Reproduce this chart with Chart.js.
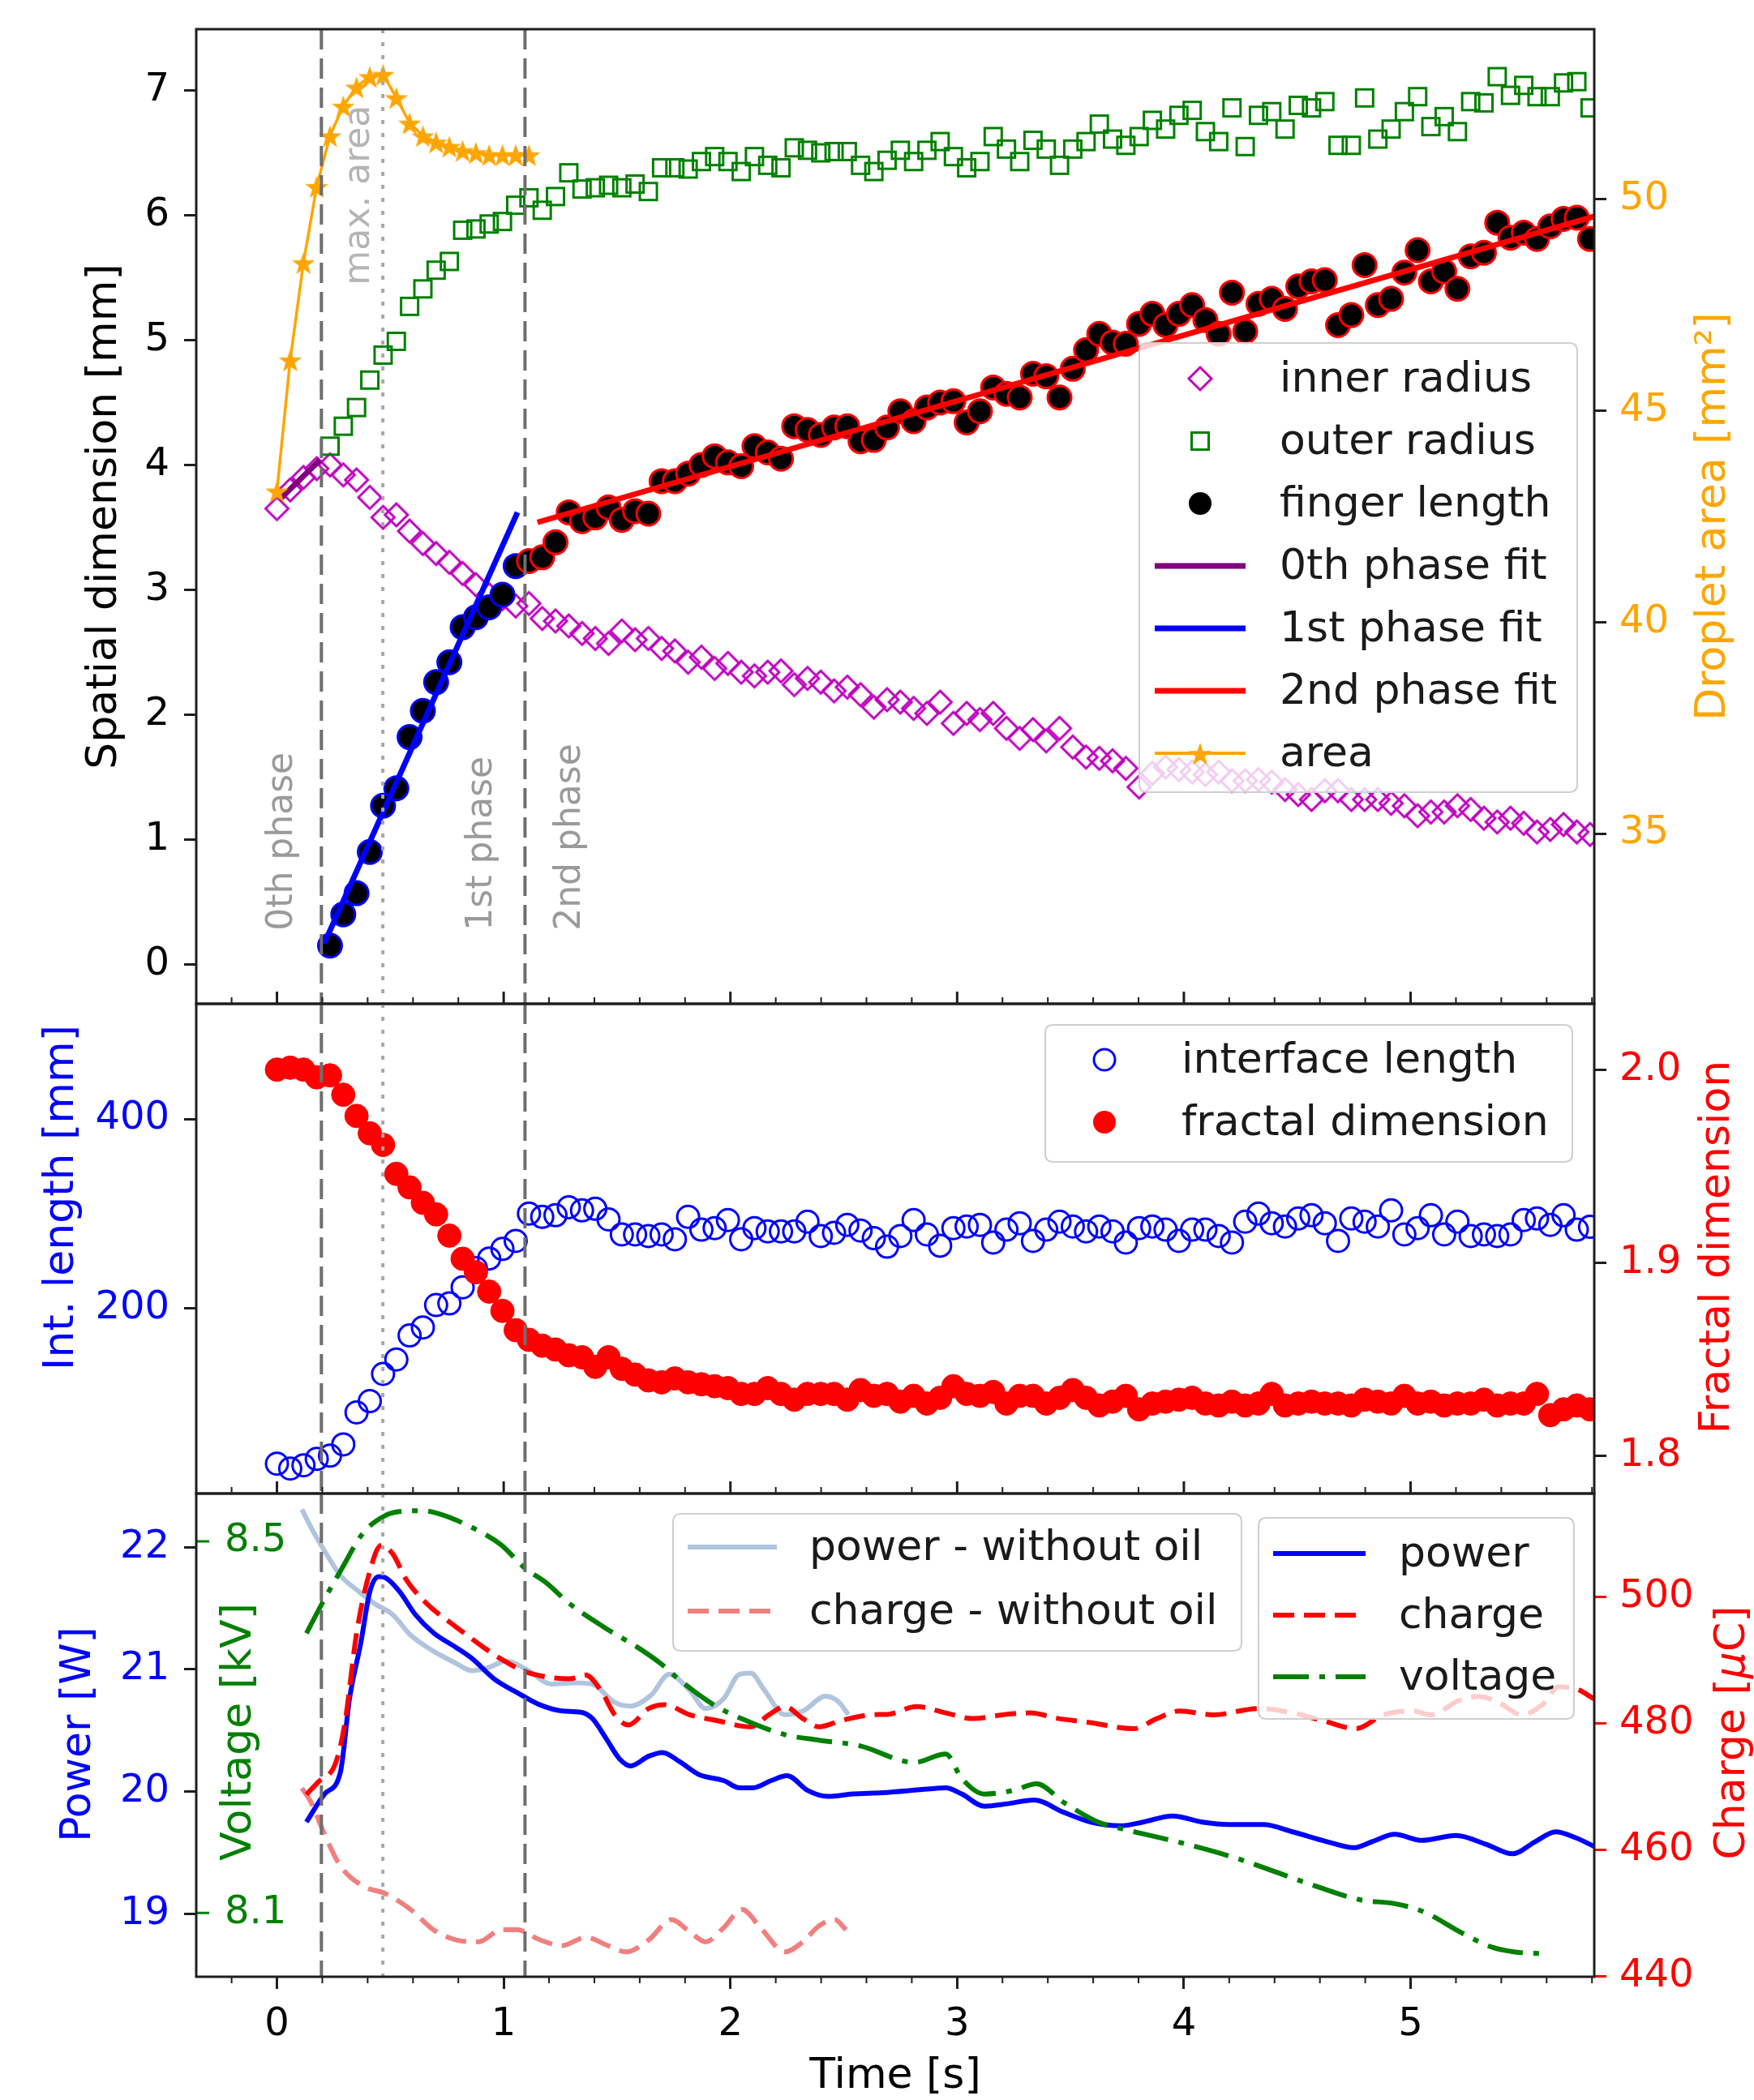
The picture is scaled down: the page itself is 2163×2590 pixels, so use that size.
<!DOCTYPE html>
<html>
<head>
<meta charset="utf-8">
<title>Finger growth, interface and electrical time series</title>
<script src="https://cdn.jsdelivr.net/npm/chart.js@4.4.1/dist/chart.umd.min.js"></script>
<style>
  html, body { margin: 0; padding: 0; background: #ffffff; }
  #figure { position: relative; width: 2163px; height: 2590px; }
  #figure canvas { position: absolute; left: 0; top: 0; }
</style>
</head>
<body>
<div id="figure">
  <canvas id="topPanel" width="2163" height="2590"></canvas>
  <canvas id="midPanel" width="2163" height="2590"></canvas>
  <canvas id="botPanel" width="2163" height="2590"></canvas>
</div>
<script>
"use strict";

// ---------------- values ----------------
const frameDt = 0.0585;                 // s between video frames
const timeTicks = [0, 1, 2, 3, 4, 5];
const phaseBounds = [0.196, 1.094];     // dashed lines [s]
const maxAreaTimes = [0.467];           // dotted line [s]

// top panel
const spatialTicks = [0, 1, 2, 3, 4, 5, 6, 7];
const areaTicks = [35, 40, 45, 50];
const innerRadius = [
  3.65, 3.80, 3.90, 3.97, 4.00, 3.92, 3.88, 3.74, 3.58, 3.60,
  3.47, 3.37, 3.29, 3.22, 3.13, 3.04, 2.96, 2.93, 2.87, 2.89,
  2.77, 2.75, 2.71, 2.65, 2.61, 2.57, 2.67, 2.60, 2.61, 2.53,
  2.51, 2.42, 2.46, 2.37, 2.41, 2.34, 2.31, 2.34, 2.35, 2.24,
  2.29, 2.26, 2.19, 2.22, 2.16, 2.06, 2.12, 2.10, 2.05, 2.01,
  2.10, 1.93, 2.01, 1.96, 2.01, 1.89, 1.81, 1.88, 1.79, 1.89,
  1.74, 1.66, 1.65, 1.63, 1.57, 1.42, 1.53, 1.58, 1.56, 1.54,
  1.52, 1.54, 1.47, 1.47, 1.48, 1.46, 1.40, 1.36, 1.32, 1.39,
  1.39, 1.32, 1.32, 1.32, 1.29, 1.27, 1.19, 1.22, 1.22, 1.27,
  1.24, 1.17, 1.14, 1.17, 1.13, 1.06, 1.08, 1.12, 1.06, 1.04
];
const outerRadiusStart = 4;
const outerRadius = [
  4.15, 4.31, 4.46, 4.68, 4.88, 4.99, 5.27, 5.41, 5.56, 5.63,
  5.88, 5.89, 5.93, 5.95, 6.08, 6.14, 6.04, 6.15, 6.34, 6.21,
  6.22, 6.24, 6.22, 6.25, 6.19, 6.38, 6.38, 6.37, 6.43, 6.47,
  6.43, 6.35, 6.47, 6.40, 6.38, 6.54, 6.52,
  6.50, 6.51, 6.51, 6.40, 6.35, 6.44, 6.52, 6.43, 6.52, 6.59,
  6.47, 6.38, 6.43, 6.63, 6.53, 6.43, 6.60, 6.53, 6.40, 6.53,
  6.59, 6.73, 6.61, 6.56, 6.63, 6.76, 6.69, 6.80, 6.84,
  6.67, 6.59, 6.86, 6.55, 6.80, 6.83, 6.69, 6.88, 6.86, 6.91,
  6.56, 6.56, 6.94, 6.61, 6.69, 6.83, 6.95, 6.71, 6.79, 6.67,
  6.91, 6.90, 7.11, 6.96, 7.04, 6.95, 6.95, 7.06, 7.07, 6.86
];
const fingerPhase1Start = 4;
const fingerPhase1 = [0.15, 0.40, 0.57, 0.90, 1.27, 1.41, 1.82, 2.03, 2.26, 2.42,
                      2.70, 2.78, 2.86, 2.96, 3.19];
const fingerPhase2Start = 19;
const fingerPhase2 = [
  3.23, 3.26, 3.38, 3.62, 3.55, 3.58, 3.66, 3.56, 3.63, 3.61,
  3.87, 3.87, 3.93, 4.00, 4.07, 4.02, 3.99, 4.15, 4.10, 4.05,
  4.31, 4.28,
  4.24, 4.30, 4.31, 4.19, 4.20, 4.30, 4.43, 4.35, 4.46, 4.50,
  4.51, 4.34, 4.43, 4.62, 4.57, 4.54, 4.73, 4.71, 4.54, 4.77,
  4.92, 5.05, 4.98, 4.97, 5.13, 5.21, 5.12, 5.21, 5.28, 5.16, 5.05,
  5.38, 5.07, 5.29, 5.33, 5.25, 5.43, 5.47, 5.48, 5.12, 5.20,
  5.60, 5.28, 5.33, 5.54, 5.72, 5.47, 5.55, 5.41, 5.67, 5.70,
  5.94, 5.82, 5.86, 5.81, 5.91, 5.97, 5.98, 5.81
];
const dropletArea = [43.1, 46.2, 48.5, 50.3, 51.5, 52.2, 52.65, 52.9, 52.95, 52.4,
                     51.8, 51.5, 51.35, 51.25, 51.15, 51.1, 51.05, 51.05, 51.05, 51.05];
const fit0Time = [0.01, 0.19],   fit0Value = [3.72, 4.04];
const fit1Time = [0.208, 1.061], fit1Value = [0.165, 3.62];
const fit2Time = [1.149, 5.81],  fit2Value = [3.54, 5.99];
const phaseLabels = ["0th phase", "1st phase", "2nd phase", "max. area"];
const phaseLabelTime = [0.026, 0.906, 1.295, 0.364];
const phaseLabelBase = [0.27, 0.27, 0.27, 5.44];

// middle panel
const lengthTicks = [200, 400];
const fractalTicks = [1.8, 1.9, 2.0];
const interfaceLength = [
  35.6, 30.5, 33.9, 40.7, 44.1, 56.0, 89.8, 101.7, 130.5, 145.7,
  171.1, 179.6, 203.3, 205.0, 222.0, 242.3, 252.5, 262.6, 271.1, 299.9,
  296.5, 298.2, 306.7, 303.3, 305.0, 293.8, 277.9, 277.9, 276.2, 277.9,
  272.8, 296.5, 283.0, 284.6, 293.1, 272.8, 284.6, 281.2, 281.2, 281.2,
  291.4, 276.2, 279.6, 288.0, 282.0, 274.0, 265.0, 276.2, 293.1, 277.9,
  266.0, 284.6, 286.3, 288.0, 269.4, 283.0, 289.7, 271.1, 283.0, 291.4,
  286.3, 281.2, 286.3, 281.2, 269.4, 284.6, 286.3, 283.0, 271.1, 283.0,
  283.0, 276.2, 269.4, 291.4, 299.9, 289.7, 286.3, 294.8, 298.2, 289.7,
  271.1, 294.8, 291.4, 286.3, 303.3, 277.9, 284.6, 298.2, 277.9, 291.4,
  276.2, 277.9, 276.2, 277.9, 293.1, 294.8, 288.0, 298.2, 283.0, 286.0
];
const fractalDimension = [
  2.000, 2.001, 2.000, 1.996, 1.997, 1.987, 1.976, 1.967, 1.961, 1.946,
  1.939, 1.931, 1.925, 1.914, 1.902, 1.895, 1.885, 1.875, 1.865, 1.860,
  1.857, 1.855, 1.852, 1.851, 1.846, 1.851, 1.845, 1.842, 1.839, 1.838,
  1.840, 1.838, 1.837, 1.836, 1.835, 1.832, 1.832, 1.835, 1.832, 1.829,
  1.832, 1.832, 1.832, 1.829, 1.834, 1.831, 1.832, 1.828, 1.831, 1.827,
  1.830, 1.836, 1.832, 1.831, 1.833, 1.827, 1.831, 1.831, 1.827, 1.830,
  1.834, 1.830, 1.826, 1.828, 1.831, 1.824, 1.827, 1.828, 1.829, 1.830,
  1.827, 1.826, 1.828, 1.826, 1.827, 1.832, 1.826, 1.827, 1.828, 1.827,
  1.827, 1.826, 1.829, 1.828, 1.827, 1.831, 1.827, 1.828, 1.826, 1.827,
  1.827, 1.829, 1.826, 1.827, 1.827, 1.832, 1.821, 1.824, 1.826, 1.824
];

// bottom panel
const powerTicks = [19, 20, 21, 22];
const chargeTicks = [440, 460, 480, 500];
const voltageTicks = [8.1, 8.5];
const powerTime = [0.13, 0.21, 0.28, 0.32, 0.37, 0.41, 0.45, 0.48, 0.54, 0.61,
  0.69, 0.79, 0.86, 0.96, 1.06, 1.16, 1.26, 1.34, 1.39, 1.45,
  1.51, 1.56, 1.64, 1.70, 1.78, 1.86, 1.97, 2.04, 2.10, 2.18,
  2.25, 2.34, 2.43, 2.54, 2.67, 2.87, 2.95, 3.02, 3.12, 3.22,
  3.34, 3.47, 3.59, 3.72, 3.82, 3.95, 4.08, 4.20, 4.35, 4.48,
  4.63, 4.75, 4.83, 4.93, 5.05, 5.20, 5.33, 5.45, 5.55, 5.64, 5.73, 5.81];
const powerW = [19.75, 19.98, 20.16, 20.76, 21.22, 21.64, 21.76, 21.75, 21.64, 21.45,
  21.30, 21.18, 21.09, 20.92, 20.81, 20.71, 20.66, 20.65, 20.60, 20.44,
  20.27, 20.21, 20.29, 20.32, 20.24, 20.14, 20.09, 20.03, 20.03, 20.09,
  20.13, 20.01, 19.96, 19.98, 19.99, 20.02, 20.03, 19.98, 19.88, 19.90,
  19.93, 19.83, 19.75, 19.72, 19.75, 19.80, 19.75, 19.73, 19.73, 19.67,
  19.59, 19.54, 19.59, 19.65, 19.60, 19.64, 19.57, 19.49, 19.59, 19.67, 19.62, 19.55];
const chargeTime = [0.13, 0.18, 0.26, 0.30, 0.35, 0.40, 0.46, 0.51, 0.57, 0.66,
  0.79, 0.91, 0.99, 1.09, 1.19, 1.29, 1.36, 1.43, 1.49, 1.55,
  1.64, 1.71, 1.82, 1.94, 2.09, 2.17, 2.24, 2.32, 2.39, 2.49,
  2.62, 2.70, 2.82, 2.95, 3.07, 3.20, 3.32, 3.45, 3.58, 3.78,
  3.88, 3.98, 4.13, 4.33, 4.48, 4.61, 4.76, 4.88, 5.01, 5.09,
  5.21, 5.30, 5.39, 5.49, 5.59, 5.65, 5.73, 5.81];
const chargeUC = [468.8, 470.7, 473.9, 480.2, 494.0, 502.8, 508.2, 506.9, 502.8, 499.0,
  495.3, 492.1, 490.2, 488.3, 487.4, 487.1, 487.7, 485.2, 481.4, 479.8,
  482.4, 483.0, 481.4, 480.5, 479.5, 481.4, 482.7, 480.8, 479.5, 480.5,
  481.4, 481.5, 482.7, 481.7, 480.8, 481.4, 481.7, 480.8, 480.2, 479.2,
  480.8, 482.0, 481.4, 482.4, 481.7, 480.5, 479.2, 481.4, 482.0, 481.4,
  483.6, 484.3, 483.3, 481.4, 483.3, 485.8, 485.5, 483.9];
const voltageTime = [0.13, 0.21, 0.28, 0.38, 0.48, 0.54, 0.64, 0.71, 0.86, 0.99,
  1.09, 1.19, 1.29, 1.44, 1.59, 1.69, 1.79, 1.94, 2.09, 2.24,
  2.39, 2.57, 2.81, 2.95, 3.02, 3.12, 3.25, 3.35, 3.47, 3.62,
  3.72, 3.98, 4.23, 4.58, 4.78, 4.93, 5.06, 5.23, 5.36, 5.46, 5.61];
const voltageKV = [8.401, 8.438, 8.468, 8.509, 8.528, 8.532, 8.533, 8.530, 8.515, 8.496,
  8.472, 8.455, 8.433, 8.408, 8.386, 8.369, 8.348, 8.322, 8.305, 8.292,
  8.286, 8.280, 8.262, 8.271, 8.245, 8.228, 8.232, 8.239, 8.219, 8.198,
  8.191, 8.176, 8.159, 8.129, 8.114, 8.110, 8.101, 8.078, 8.063, 8.058, 8.056];
const powerNoOilTime = [0.11, 0.16, 0.21, 0.28, 0.36, 0.43, 0.51, 0.59, 0.69, 0.79,
  0.86, 0.94, 1.01, 1.11, 1.21, 1.31, 1.39, 1.49, 1.56, 1.65,
  1.73, 1.82, 1.89, 1.97, 2.04, 2.09, 2.15, 2.24, 2.32, 2.42, 2.48, 2.52];
const powerNoOil = [22.31, 22.13, 21.97, 21.77, 21.64, 21.54, 21.45, 21.28, 21.15, 21.05,
  20.99, 21.02, 21.07, 20.99, 20.88, 20.89, 20.88, 20.73, 20.70, 20.79,
  20.96, 20.83, 20.68, 20.76, 20.96, 20.97, 20.83, 20.63, 20.66, 20.78, 20.73, 20.63];
const chargeNoOilTime = [0.11, 0.15, 0.21, 0.28, 0.38, 0.48, 0.59, 0.69, 0.79, 0.89,
  0.99, 1.06, 1.16, 1.26, 1.36, 1.46, 1.54, 1.64, 1.74, 1.82,
  1.89, 1.97, 2.05, 2.14, 2.24, 2.32, 2.39, 2.46, 2.51];
const chargeNoOil = [469.8, 467.6, 462.5, 457.5, 454.3, 453.1, 450.6, 447.4, 445.8, 445.5,
  447.4, 447.4, 445.8, 444.9, 446.2, 444.9, 443.9, 445.8, 449.0, 447.1,
  445.5, 447.7, 450.6, 447.4, 443.9, 445.5, 448.0, 449.0, 447.4];

// ---------------- look ----------------
const W = 2163, H = 2590;
const PLOT_LEFT = 242, PLOT_RIGHT = 1966;
const PANEL_TOP = [36, 1238, 1842];
const PANEL_BOTTOM = [1238, 1842, 2438];
const X_MIN = -0.356, X_MAX = 5.81;
const FONT = "'DejaVu Sans', 'Noto Sans', sans-serif";

const MAGENTA = "#bf00bf", GREEN = "#008000", PURPLE = "#800080";
const BLUE = "#0000ff", RED = "#ff0000", ORANGE = "#ffa500";
const STEEL = "#b0c4de", CORAL = "#f08080";

const DASH = [26, 12];
const DASH_DOT = [44, 13, 7, 13];

Chart.defaults.font.family = FONT;
Chart.defaults.color = "#000";

function fromFrames(values, firstFrame) {
  return values.map((v, i) => ({x: (firstFrame + i) * frameDt, y: v}));
}

function fromPairs(times, values) {
  return times.map((t, i) => ({x: t, y: values[i]}));
}

function markerCanvas(size, draw) {
  const c = document.createElement("canvas");
  c.width = size;
  c.height = size;
  draw(c.getContext("2d"), size / 2);
  return c;
}

const diamondMark = markerCanvas(34, function (g, c) {
  g.strokeStyle = MAGENTA;
  g.lineWidth = 3;
  g.beginPath();
  g.moveTo(c, c - 14); g.lineTo(c + 14, c); g.lineTo(c, c + 14); g.lineTo(c - 14, c);
  g.closePath();
  g.stroke();
});

const squareMark = markerCanvas(28, function (g, c) {
  g.strokeStyle = GREEN;
  g.lineWidth = 3;
  g.strokeRect(c - 10.5, c - 10.5, 21, 21);
});

const starMark = markerCanvas(34, function (g, c) {
  g.fillStyle = ORANGE;
  g.beginPath();
  for (let i = 0; i < 10; i++) {
    const r = i % 2 ? 6 : 15;
    const a = -Math.PI / 2 + i * Math.PI / 5;
    g.lineTo(c + r * Math.cos(a), c + 2 + r * Math.sin(a));
  }
  g.closePath();
  g.fill();
});

// ---------------- scales ----------------
function xScale(visible) {
  const s = {
    type: "linear", min: X_MIN, max: X_MAX, display: visible,
    afterBuildTicks: function (sc) { sc.ticks = timeTicks.map(v => ({value: v})); },
    grid: {drawOnChartArea: false, drawTicks: true, tickLength: 15, tickWidth: 3, tickColor: "#1e1e1e"},
    border: {display: false},
    ticks: {color: "#000", font: {size: 48}, padding: 16, maxRotation: 0, autoSkip: false,
            callback: v => String(v)}
  };
  if (visible) {
    s.afterFit = function (sc) {
      sc.height = H - PANEL_BOTTOM[2];
      sc.paddingLeft = 0;
      sc.paddingRight = 0;
    };
  }
  return s;
}

function yScale(side, min, max, tickValues, labelColor, markColor, decimals) {
  return {
    type: "linear", position: side, min: min, max: max,
    afterBuildTicks: function (sc) { sc.ticks = tickValues.map(v => ({value: v})); },
    afterFit: function (sc) {
      sc.width = side === "left" ? PLOT_LEFT : W - PLOT_RIGHT;
      sc.paddingTop = 0;
      sc.paddingBottom = 0;
    },
    grid: {drawOnChartArea: false, drawTicks: true, tickLength: 15, tickWidth: 3, tickColor: markColor},
    border: {display: false},
    ticks: {color: labelColor, font: {size: 48}, padding: side === "left" ? 18 : 16,
            callback: v => v.toFixed(decimals)}
  };
}

// ---------------- drawing helpers ----------------
function vline(ctx, x, a) {
  ctx.beginPath();
  ctx.moveTo(x, a.top);
  ctx.lineTo(x, a.bottom);
  ctx.stroke();
}

// parts: [[text, italic?], ...] drawn as one label centred on (x, y)
function drawLabel(ctx, parts, x, y, color, size, rotated) {
  ctx.save();
  ctx.translate(x, y);
  if (rotated) ctx.rotate(-Math.PI / 2);
  ctx.fillStyle = color;
  ctx.textBaseline = "middle";
  ctx.textAlign = "left";
  let total = 0;
  const widths = parts.map(p => {
    ctx.font = (p[1] ? "italic " : "") + size + "px " + FONT;
    const w = ctx.measureText(p[0]).width;
    total += w;
    return w;
  });
  let cx = -total / 2;
  parts.forEach((p, i) => {
    ctx.font = (p[1] ? "italic " : "") + size + "px " + FONT;
    ctx.fillText(p[0], cx, 0);
    cx += widths[i];
  });
  ctx.restore();
}

function roundRectPath(ctx, x, y, w, h, r) {
  ctx.beginPath();
  ctx.moveTo(x + r, y);
  ctx.lineTo(x + w - r, y);
  ctx.quadraticCurveTo(x + w, y, x + w, y + r);
  ctx.lineTo(x + w, y + h - r);
  ctx.quadraticCurveTo(x + w, y + h, x + w - r, y + h);
  ctx.lineTo(x + r, y + h);
  ctx.quadraticCurveTo(x, y + h, x, y + h - r);
  ctx.lineTo(x, y + r);
  ctx.quadraticCurveTo(x, y, x + r, y);
  ctx.closePath();
}

function drawLegend(ctx, lg) {
  ctx.save();
  roundRectPath(ctx, lg.x, lg.y, lg.w, lg.h, 10);
  ctx.fillStyle = "rgba(255,255,255,0.8)";
  ctx.fill();
  ctx.strokeStyle = "#cfcfcf";
  ctx.lineWidth = 2;
  ctx.stroke();
  lg.rows.forEach(function (row, i) {
    const cy = lg.y0 + i * lg.dy;
    if (row.line) {
      ctx.strokeStyle = row.line;
      ctx.lineWidth = row.lw;
      ctx.setLineDash(row.dash || []);
      ctx.beginPath();
      ctx.moveTo(lg.hx - lg.hw, cy);
      ctx.lineTo(lg.hx + lg.hw, cy);
      ctx.stroke();
      ctx.setLineDash([]);
    }
    if (row.img) ctx.drawImage(row.img, lg.hx - row.img.width / 2, cy - row.img.height / 2);
    if (row.dot) {
      ctx.beginPath();
      ctx.arc(lg.hx, cy, row.dot.r, 0, 2 * Math.PI);
      if (row.dot.fill) { ctx.fillStyle = row.dot.fill; ctx.fill(); }
      if (row.dot.edge) { ctx.strokeStyle = row.dot.edge; ctx.lineWidth = 3; ctx.stroke(); }
    }
    ctx.fillStyle = "#1a1a1a";
    ctx.font = "52px " + FONT;
    ctx.textAlign = "left";
    ctx.textBaseline = "middle";
    ctx.fillText(row.label, lg.tx, cy + 2);
  });
  ctx.restore();
}

// per panel extras (kept outside chart options so Chart.js does not resolve them)
const panelSetup = {
  topPanel: {
    ticksOut: false,
    titles: [
      {parts: [["Spatial dimension [mm]"]], x: 129, y: 637, color: "#000"},
      {parts: [["Droplet area [mm²]"]], x: 2113, y: 637, color: ORANGE}
    ],
    legends: [{
      x: 1405, y: 423, w: 540, h: 554, y0: 467, dy: 77, hx: 1480, hw: 56, tx: 1578,
      rows: [
        {label: "inner radius", img: diamondMark},
        {label: "outer radius", img: squareMark},
        {label: "finger length", dot: {r: 14, fill: "#000"}},
        {label: "0th phase fit", line: PURPLE, lw: 7},
        {label: "1st phase fit", line: BLUE, lw: 7},
        {label: "2nd phase fit", line: RED, lw: 7},
        {label: "area", line: ORANGE, lw: 4, img: starMark}
      ]
    }]
  },
  midPanel: {
    ticksOut: false,
    titles: [
      {parts: [["Int. length [mm]"]], x: 76, y: 1477, color: BLUE},
      {parts: [["Fractal dimension"]], x: 2118, y: 1538, color: RED}
    ],
    legends: [{
      x: 1289, y: 1264, w: 650, h: 169, y0: 1307, dy: 77, hx: 1362, hw: 0, tx: 1457,
      rows: [
        {label: "interface length", dot: {r: 13, edge: BLUE}},
        {label: "fractal dimension", dot: {r: 14, fill: RED}}
      ]
    }]
  },
  botPanel: {
    ticksOut: true,
    titles: [
      {parts: [["Power [W]"]], x: 97, y: 2139, color: BLUE},
      {parts: [["Voltage [kV]"]], x: 295, y: 2136, color: GREEN},
      {parts: [["Charge ["], ["μ", true], ["C]"]], x: 2137, y: 2137, color: RED},
      {parts: [["Time [s]"]], x: 1104, y: 2561, color: "#000", flat: true}
    ],
    legends: [{
      x: 830, y: 1867, w: 701, h: 169, y0: 1908, dy: 79, hx: 903, hw: 55, tx: 998,
      rows: [
        {label: "power - without oil", line: STEEL, lw: 6},
        {label: "charge - without oil", line: CORAL, lw: 6, dash: DASH}
      ]
    }, {
      x: 1552, y: 1872, w: 389, h: 248, y0: 1916, dy: 76, hx: 1627, hw: 57, tx: 1725,
      rows: [
        {label: "power", line: BLUE, lw: 6},
        {label: "charge", line: RED, lw: 6, dash: DASH},
        {label: "voltage", line: GREEN, lw: 6, dash: DASH_DOT}
      ]
    }]
  }
};

const panelDeco = {
  id: "panelDeco",
  afterDatasetsDraw(chart) {
    const o = panelSetup[chart.canvas.id];
    const ctx = chart.ctx, a = chart.chartArea, xs = chart.scales.x;
    ctx.save();

    // phase boundaries and time of maximum area
    ctx.lineWidth = 4;
    ctx.strokeStyle = "#6e6e6e";
    ctx.setLineDash([25, 11]);
    phaseBounds.forEach(t => vline(ctx, xs.getPixelForValue(t), a));
    ctx.strokeStyle = "#a8a8a8";
    ctx.setLineDash([5, 11]);
    maxAreaTimes.forEach(t => vline(ctx, xs.getPixelForValue(t), a));
    ctx.setLineDash([]);

    // phase annotations (top panel)
    if (chart.canvas.id === "topPanel") {
      const ys = chart.scales.y;
      phaseLabels.forEach(function (txt, i) {
        ctx.save();
        ctx.translate(xs.getPixelForValue(phaseLabelTime[i]), ys.getPixelForValue(phaseLabelBase[i]));
        ctx.rotate(-Math.PI / 2);
        ctx.fillStyle = i === 3 ? "#b4b4b4" : "#9a9a9a";
        ctx.font = "44px " + FONT;
        ctx.textAlign = "left";
        ctx.textBaseline = "middle";
        ctx.fillText(txt, 0, 0);
        ctx.restore();
      });
    }

    // voltage axis sits inside the bottom plot
    if (chart.scales.yV) {
      const yv = chart.scales.yV;
      ctx.strokeStyle = GREEN;
      ctx.fillStyle = GREEN;
      ctx.lineWidth = 3;
      ctx.font = "48px " + FONT;
      ctx.textAlign = "left";
      ctx.textBaseline = "middle";
      voltageTicks.forEach(function (v) {
        const y = yv.getPixelForValue(v);
        ctx.beginPath();
        ctx.moveTo(a.left, y);
        ctx.lineTo(a.left + 16, y);
        ctx.stroke();
        ctx.fillText(v.toFixed(1), a.left + 35, y);
      });
    }

    // minor (and, inside panels, major) time ticks
    ctx.strokeStyle = "#1e1e1e";
    for (let i = -1; i <= 29; i++) {
      const t = i / 5;
      if (t < X_MIN || t > X_MAX) continue;
      const major = i % 5 === 0;
      if (major && o.ticksOut) continue;
      const x = xs.getPixelForValue(t);
      const len = major ? 15 : 8;
      ctx.lineWidth = major ? 3 : 2;
      ctx.beginPath();
      ctx.moveTo(x, a.bottom);
      ctx.lineTo(x, o.ticksOut ? a.bottom + len : a.bottom - len);
      ctx.stroke();
    }

    // frame
    ctx.lineWidth = 3;
    ctx.strokeRect(a.left, a.top, a.right - a.left, a.bottom - a.top);

    o.titles.forEach(t => drawLabel(ctx, t.parts, t.x, t.y, t.color, 52, !t.flat));
    o.legends.forEach(lg => drawLegend(ctx, lg));
    ctx.restore();
  }
};

function baseOptions(panel, scales) {
  return {
    responsive: false,
    animation: false,
    devicePixelRatio: 1,
    events: [],
    layout: {padding: {left: 0, right: 0, top: PANEL_TOP[panel],
                       bottom: panel === 2 ? 0 : H - PANEL_BOTTOM[panel]}},
    plugins: {legend: {display: false}, tooltip: {enabled: false}, colors: {enabled: false}},
    scales: scales
  };
}

function lineSet(points, axis, color, width, order, extra) {
  return Object.assign({data: points, yAxisID: axis, showLine: true, borderColor: color,
                        borderWidth: width, pointRadius: 0, clip: 0, order: order}, extra || {});
}

// ---------------- top: spatial dimensions and droplet area ----------------
new Chart(document.getElementById("topPanel"), {
  type: "scatter",
  data: {datasets: [
    {data: fromFrames(dropletArea, 0), yAxisID: "yA", showLine: true, borderColor: ORANGE,
     borderWidth: 3.5, pointStyle: starMark, pointRadius: 12, clip: 0, order: 1},
    lineSet(fromPairs(fit2Time, fit2Value), "y", RED, 7, 2),
    lineSet(fromPairs(fit1Time, fit1Value), "y", BLUE, 7, 3),
    lineSet(fromPairs(fit0Time, fit0Value), "y", PURPLE, 7, 4),
    {data: fromFrames(fingerPhase2, fingerPhase2Start), yAxisID: "y", pointRadius: 14.5,
     pointBackgroundColor: "#000", pointBorderColor: RED, pointBorderWidth: 3, clip: 0, order: 5},
    {data: fromFrames(fingerPhase1, fingerPhase1Start), yAxisID: "y", pointRadius: 14.5,
     pointBackgroundColor: "#000", pointBorderColor: BLUE, pointBorderWidth: 3, clip: 0, order: 6},
    {data: fromFrames(outerRadius, outerRadiusStart), yAxisID: "y", pointStyle: squareMark,
     pointRadius: 11, clip: 0, order: 7},
    {data: fromFrames(innerRadius, 0), yAxisID: "y", pointStyle: diamondMark,
     pointRadius: 12, clip: 0, order: 8}
  ]},
  options: baseOptions(0, {
    x: xScale(false),
    y: yScale("left", -0.316, 7.49, spatialTicks, "#000", "#1e1e1e", 0),
    yA: yScale("right", 30.975, 54.016, areaTicks, ORANGE, "#1e1e1e", 0)
  }),
  plugins: [panelDeco]
});

// ---------------- middle: interface length and fractal dimension ----------------
new Chart(document.getElementById("midPanel"), {
  type: "scatter",
  data: {datasets: [
    {data: fromFrames(fractalDimension, 0), yAxisID: "yD", pointRadius: 14.5,
     pointBackgroundColor: RED, pointBorderColor: RED, pointBorderWidth: 1, clip: 0, order: 1},
    {data: fromFrames(interfaceLength, 0), yAxisID: "y", pointRadius: 13.5,
     pointBackgroundColor: "rgba(0,0,0,0)", pointBorderColor: BLUE, pointBorderWidth: 3, clip: 0, order: 2}
  ]},
  options: baseOptions(1, {
    x: xScale(false),
    y: yScale("left", 4.1, 521.7, lengthTicks, BLUE, "#1e1e1e", 0),
    yD: yScale("right", 1.7804, 2.0341, fractalTicks, RED, "#1e1e1e", 1)
  }),
  plugins: [panelDeco]
});

// ---------------- bottom: power, charge, voltage ----------------
const smooth = {cubicInterpolationMode: "monotone"};
new Chart(document.getElementById("botPanel"), {
  type: "scatter",
  data: {datasets: [
    lineSet(fromPairs(voltageTime, voltageKV), "yV", GREEN, 6, 1,
            Object.assign({borderDash: DASH_DOT}, smooth)),
    lineSet(fromPairs(chargeTime, chargeUC), "yQ", RED, 6, 2,
            Object.assign({borderDash: DASH}, smooth)),
    lineSet(fromPairs(powerTime, powerW), "y", BLUE, 6, 3, smooth),
    lineSet(fromPairs(chargeNoOilTime, chargeNoOil), "yQ", CORAL, 6, 4,
            Object.assign({borderDash: DASH}, smooth)),
    lineSet(fromPairs(powerNoOilTime, powerNoOil), "y", STEEL, 6, 5, smooth)
  ]},
  options: baseOptions(2, {
    x: xScale(true),
    y: yScale("left", 18.483, 22.441, powerTicks, BLUE, "#1e1e1e", 0),
    yQ: yScale("right", 439.97, 516.4, chargeTicks, RED, RED, 0),
    yV: {type: "linear", position: "left", display: false, min: 8.0313, max: 8.5515}
  }),
  plugins: [panelDeco]
});
</script>
</body>
</html>
